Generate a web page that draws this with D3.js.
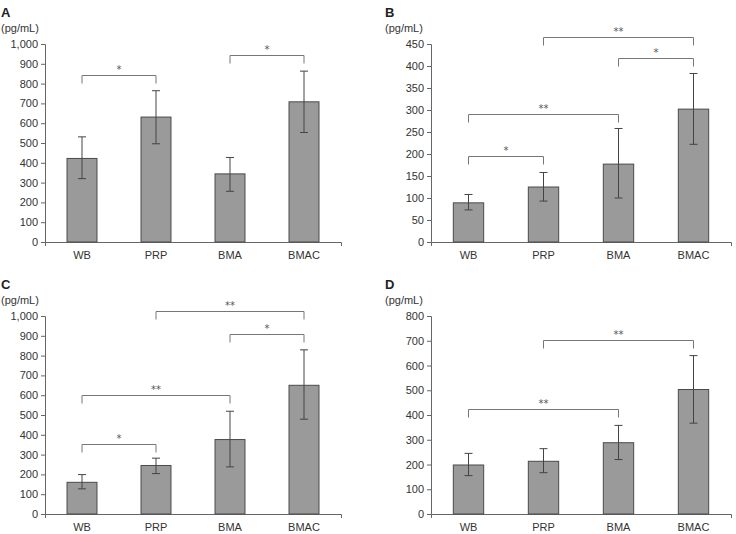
<!DOCTYPE html>
<html>
<head>
<meta charset="utf-8">
<title>Cytokine levels (pg/mL)</title>
<style>
  body { margin: 0; background: #fff; }
  svg { display: block; font-family: "Liberation Sans", Arial, sans-serif; }
  .axis text { font-size: 11px; fill: #333; }
  .axis path, .axis line { stroke: #666; }
  .bar { fill: #9a9a9a; stroke: #4a4a4a; stroke-width: 1px; }
  .err { stroke: #444; stroke-width: 1px; fill: none; }
  .bracket { stroke: #777; stroke-width: 1px; fill: none; }
  .star { font-size: 10px; fill: #555; text-anchor: middle; font-family: "DejaVu Sans", sans-serif; }
  .unit { font-size: 11px; fill: #333; }
  .letter { font-size: 13px; font-weight: bold; fill: #222; }
</style>
</head>
<body>
<script src="https://d3js.org/d3.v7.min.js"></script>
<script>

var categories = ["WB", "PRP", "BMA", "BMAC"];

// panel A
var meanA = [422, 631, 344, 708];
var lowA  = [320, 496, 256, 553];
var highA = [531, 764, 427, 863];
var ticksA = d3.range(0, 1001, 100);
var bracketsA = [[0, 1, 841, "*"], [2, 3, 944, "*"]];

// panel B
var meanB = [89, 125, 177, 302];
var lowB  = [73, 93, 100, 222];
var highB = [108, 158, 258, 383];
var ticksB = d3.range(0, 451, 50);
var bracketsB = [[1, 3, 465, "**"], [2, 3, 419, "*"], [0, 2, 292, "**"], [0, 1, 196, "*"]];

// panel C
var meanC = [160, 245, 376, 650];
var lowC  = [127, 204, 238, 479];
var highC = [199, 282, 519, 829];
var ticksC = d3.range(0, 1001, 100);
var bracketsC = [[1, 3, 1024, "**"], [2, 3, 907, "*"], [0, 2, 599, "**"], [0, 1, 356, "*"]];

// panel D
var meanD = [198, 213, 288, 503];
var lowD  = [155, 167, 220, 367];
var highD = [245, 264, 358, 640];
var ticksD = d3.range(0, 801, 100);
var bracketsD = [[1, 3, 702, "**"], [0, 2, 424, "**"]];

var svg = d3.select("body").append("svg")
    .attr("width", 736)
    .attr("height", 534);

var panels = [
  {letter: "A", mean: meanA, low: lowA, high: highA, ticks: ticksA, brackets: bracketsA, x0: 45,  x1: 341, y0: 242, y1: 44},
  {letter: "B", mean: meanB, low: lowB, high: highB, ticks: ticksB, brackets: bracketsB, x0: 431, x1: 731, y0: 242, y1: 44},
  {letter: "C", mean: meanC, low: lowC, high: highC, ticks: ticksC, brackets: bracketsC, x0: 45,  x1: 341, y0: 514, y1: 316},
  {letter: "D", mean: meanD, low: lowD, high: highD, ticks: ticksD, brackets: bracketsD, x0: 431, x1: 731, y0: 514, y1: 316}
];

panels.forEach(function(p) {
  var g = svg.append("g");

  var x = d3.scaleBand().domain(categories).range([p.x0, p.x1]).paddingInner(0.595).paddingOuter(0.2975);
  var y = d3.scaleLinear().domain([0, d3.max(p.ticks)]).range([p.y0, p.y1]);

  var rows = categories.map(function(c, i) {
    return {cat: c, mean: p.mean[i], low: p.low[i], high: p.high[i]};
  });

  // axes
  g.append("g")
      .attr("class", "axis")
      .attr("transform", "translate(0," + p.y0 + ")")
      .call(d3.axisBottom(x).tickSizeInner(0).tickSizeOuter(4).tickPadding(9));

  g.append("g")
      .attr("class", "axis")
      .attr("transform", "translate(" + p.x0 + ",0)")
      .call(d3.axisLeft(y).tickValues(p.ticks).tickSizeOuter(0).tickSize(4).tickPadding(3).tickFormat(d3.format(",")));

  // bars
  g.selectAll(".bar").data(rows).enter().append("rect")
      .attr("class", "bar")
      .attr("x", function(d) { return x(d.cat); })
      .attr("width", x.bandwidth())
      .attr("y", function(d) { return y(d.mean); })
      .attr("height", function(d) { return y(0) - y(d.mean); });

  // error bars
  var cx = function(d) { return x(d.cat) + x.bandwidth() / 2; };
  g.selectAll(".errv").data(rows).enter().append("line")
      .attr("class", "err")
      .attr("x1", cx).attr("x2", cx)
      .attr("y1", function(d) { return y(d.low); })
      .attr("y2", function(d) { return y(d.high); });
  ["low", "high"].forEach(function(k) {
    g.selectAll(".cap-" + k).data(rows).enter().append("line")
        .attr("class", "err")
        .attr("x1", function(d) { return cx(d) - 4; })
        .attr("x2", function(d) { return cx(d) + 4; })
        .attr("y1", function(d) { return y(d[k]); })
        .attr("y2", function(d) { return y(d[k]); });
  });

  // significance brackets
  p.brackets.forEach(function(b) {
    var xa = x(categories[b[0]]) + x.bandwidth() / 2;
    var xb = x(categories[b[1]]) + x.bandwidth() / 2;
    var yy = Math.round(y(b[2])) + 0.5;
    g.append("path")
        .attr("class", "bracket")
        .attr("d", "M" + xa + "," + (yy + 8) + "V" + yy + "H" + xb + "V" + (yy + 8));
    g.append("text")
        .attr("class", "star")
        .attr("x", (xa + xb) / 2)
        .attr("y", yy - 3)
        .text(b[3]);
  });

  // panel labels (left panels sit against the page edge)
  var lx = Math.max(p.x0 - 46, 1);
  g.append("text").attr("class", "letter")
      .attr("x", lx).attr("y", p.y1 - 27)
      .text(p.letter);
  g.append("text").attr("class", "unit")
      .attr("x", lx).attr("y", p.y1 - 12)
      .text("(pg/mL)");
});

</script>
</body>
</html>
